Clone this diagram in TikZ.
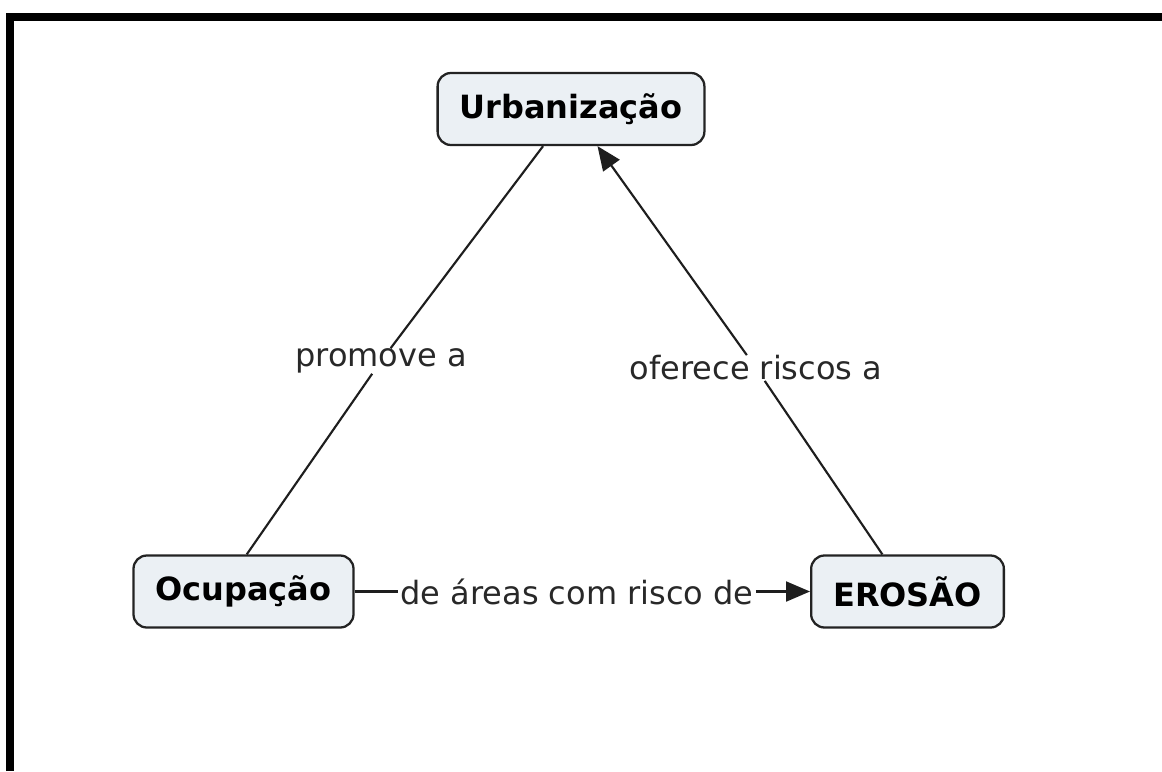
\documentclass[tikz,border=0pt]{standalone}
\usepackage{fontspec}
\setmainfont{DejaVu Sans}
\usetikzlibrary{arrows.meta}

\tikzset{every picture/.style={line width=0.75pt}}
\tikzset{
  concept/.style={draw={rgb, 255:red, 35; green, 35; blue, 35 }, line width=1.7pt,
    fill={rgb, 255:red, 235; green, 240; blue, 244 }, rounded corners=10pt,
    inner xsep=16.5pt, minimum height=54pt, font=\fontsize{24}{29}\selectfont\bfseries},
  phrase/.style={inner xsep=1.5pt, inner ysep=0pt, text={rgb, 255:red, 40; green, 40; blue, 40 },
    font=\fontsize{24}{29}\selectfont},
  link/.style={line width=1.6pt, draw={rgb, 255:red, 30; green, 30; blue, 30 }},
  linkto/.style={link, -{Triangle[length=18pt,width=15pt]}}
}

\begin{document}
\begin{tikzpicture}[x=0.75pt,y=0.75pt,yscale=-1,xscale=1]
\useasboundingbox (0,0) rectangle (1162,771);

%Frame (left and top edges)
\draw [line width=6pt, miter limit=10] (10,771) -- (10,17) -- (1162,17) ;

%Concepts
\node [concept] (urb) at (571,109) {Urbanização};
\node [concept] (ocu) at (243.5,591.5) {Ocupação};
\node [concept] (ero) at (907.5,591.5) {EROSÃO};

%Linking phrases
\node [phrase] (promove) at (381,361) {promove a};
\node [phrase] (oferece) at (756,368) {oferece riscos a};
\node [phrase] (areas) at (577,591.5) {de áreas com risco de};

%Connections
\draw [link] (ocu.85) -- (promove) ;
\draw [link] (promove) -- (urb) ;
\draw [link] (ero) -- (oferece) ;
\draw [linkto] (oferece) -- (urb) ;
\draw [link] (ocu) -- (areas) ;
\draw [linkto] (areas) -- (ero) ;

\end{tikzpicture}
\end{document}
